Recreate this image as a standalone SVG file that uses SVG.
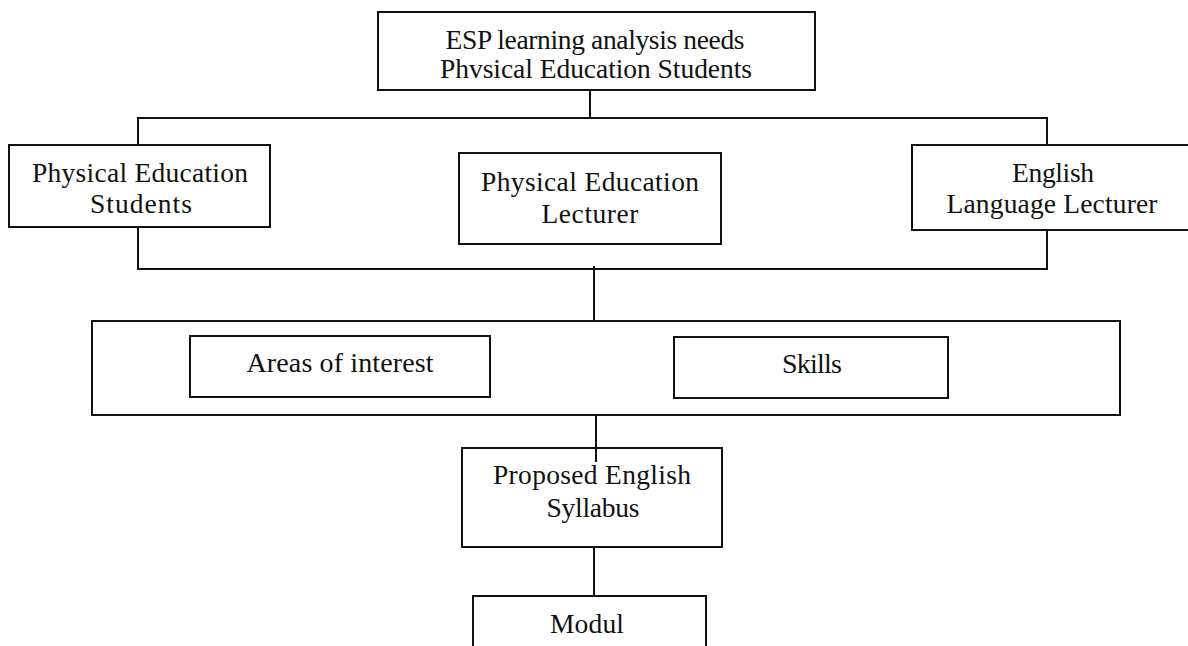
<svg xmlns="http://www.w3.org/2000/svg" width="1188" height="646" viewBox="0 0 1188 646">
<style>
rect.box{fill:#fff;stroke:#111;stroke-width:2}
.conn line{stroke:#111;stroke-width:2}
text{font-family:"Liberation Serif","Times New Roman",serif;font-size:27.5px;fill:#111;text-anchor:middle}
text.t{font-size:28px}
</style>
<rect width="1188" height="646" fill="#fff"/>
<g id="connectors" class="conn">
<line x1="590" y1="90" x2="590" y2="118"/>
<line x1="137" y1="118" x2="1048" y2="118"/>
<line x1="138" y1="118" x2="138" y2="145"/>
<line x1="1047" y1="118" x2="1047" y2="145"/>
<line x1="138" y1="227" x2="138" y2="269"/>
<line x1="1047" y1="230" x2="1047" y2="269"/>
<line x1="137" y1="269" x2="1048" y2="269"/>
<line x1="594" y1="266" x2="594" y2="321"/>
<line x1="596" y1="415" x2="596" y2="462"/>
<line x1="594" y1="547" x2="594" y2="596"/>
</g>
<g id="n-top">
<rect class="box" x="378" y="12" width="437" height="78"/>
<text x="595" y="49" textLength="299" lengthAdjust="spacing">ESP learning analysis needs</text>
<text x="596" y="78" textLength="312" lengthAdjust="spacing">Phvsical Education Students</text>
</g>
<g id="n-students">
<rect class="box" x="9" y="145" width="261" height="82"/>
<text x="140" y="182" textLength="216" lengthAdjust="spacing">Physical Education</text>
<text x="141" y="213" textLength="102" lengthAdjust="spacing">Students</text>
</g>
<g id="n-pe-lecturer">
<rect class="box" x="459" y="153" width="262" height="91"/>
<text x="590" y="191" textLength="218" lengthAdjust="spacing">Physical Education</text>
<text x="590" y="223" textLength="97" lengthAdjust="spacing">Lecturer</text>
</g>
<g id="n-eng-lecturer">
<rect class="box" x="912" y="145" width="280" height="85"/>
<text x="1053" y="182" textLength="82" lengthAdjust="spacing">English</text>
<text x="1052" y="213" textLength="211" lengthAdjust="spacing">Language Lecturer</text>
</g>
<g id="n-group">
<rect class="box" x="92" y="321" width="1028" height="94"/>
</g>
<g id="n-areas">
<rect class="box" x="190" y="336" width="300" height="61"/>
<text class="t" x="340" y="372" textLength="187" lengthAdjust="spacing">Areas of interest</text>
</g>
<g id="n-skills">
<rect class="box" x="674" y="337" width="274" height="61"/>
<text class="t" x="812" y="373" textLength="60" lengthAdjust="spacing">Skills</text>
</g>
<g id="n-syllabus">
<rect class="box" x="462" y="448" width="260" height="99"/>
<text x="592" y="484" textLength="198" lengthAdjust="spacing">Proposed English</text>
<text x="593" y="517" textLength="93" lengthAdjust="spacing">Syllabus</text>
</g>
<line x1="596" y1="448" x2="596" y2="462" stroke="#111" stroke-width="2"/>
<g id="n-modul">
<rect class="box" x="473" y="596" width="233" height="60"/>
<text x="587" y="633" textLength="74" lengthAdjust="spacing">Modul</text>
</g>
</svg>
